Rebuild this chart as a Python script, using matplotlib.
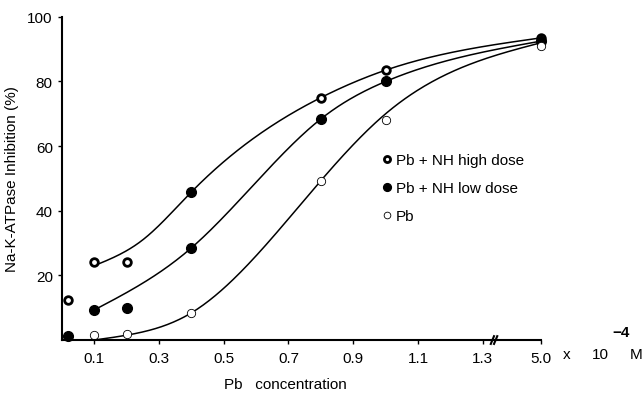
import numpy as np
import matplotlib
matplotlib.use("Agg")
import matplotlib.pyplot as plt

plt.rcParams['font.family'] = ['Liberation Sans', 'DejaVu Sans']

# tick positions (5.0 sits after the axis break at position 1.48)
tick_pos = [0.1, 0.3, 0.5, 0.7, 0.9, 1.1, 1.3, 1.48]
tick_labels = ['0.1', '0.3', '0.5', '0.7', '0.9', '1.1', '1.3', '5.0']

# data points (x in plotted position units)
high_x = [0.02, 0.1, 0.2, 0.8, 1.0, 1.48]
high_y = [12.5, 24, 24, 75, 83.5, 93.5]
low_x = [0.02, 0.1, 0.2, 0.4, 0.4, 0.8, 1.0, 1.48]
low_y = [1.3, 9.3, 10, 28.5, 45.8, 68.4, 80, 92.5]
pb_x = [0.1, 0.2, 0.4, 0.8, 1.0, 1.48]
pb_y = [1.5, 2, 8.4, 49.3, 68, 91]

# fitted curve nodes
high_cx = [0.1, 0.25, 0.4, 0.8, 1.0, 1.48]
high_cy = [23, 31, 45.8, 75, 83.5, 93.5]
low_cx = [0.1, 0.4, 0.8, 1.0, 1.48]
low_cy = [9.3, 28.5, 68.4, 80, 92.5]
pb_cx = [0.1, 0.2, 0.4, 0.8, 1.0, 1.48]
pb_cy = [0, 1.5, 8.4, 49.3, 70, 92]


def spline(xs, ys, n=300):
    xs, ys = np.asarray(xs, float), np.asarray(ys, float)
    k = len(xs)
    h = np.diff(xs)
    A = np.zeros((k, k))
    b = np.zeros(k)
    A[0, 0] = A[-1, -1] = 1
    for i in range(1, k - 1):
        A[i, i - 1] = h[i - 1]
        A[i, i] = 2 * (h[i - 1] + h[i])
        A[i, i + 1] = h[i]
        b[i] = 6 * ((ys[i + 1] - ys[i]) / h[i] - (ys[i] - ys[i - 1]) / h[i - 1])
    M = np.linalg.solve(A, b)
    t = np.linspace(xs[0], xs[-1], n)
    out = np.empty_like(t)
    for j, x in enumerate(t):
        i = min(np.searchsorted(xs, x) - 1, k - 2)
        i = max(i, 0)
        a, c = xs[i + 1] - x, x - xs[i]
        out[j] = (M[i] * a**3 + M[i + 1] * c**3) / (6 * h[i]) \
            + (ys[i] / h[i] - M[i] * h[i] / 6) * a + (ys[i + 1] / h[i] - M[i + 1] * h[i] / 6) * c
    return t, out


fig = plt.figure(figsize=(6.44, 4.06), dpi=100)
ax = fig.add_axes([0.096, 0.16, 0.744, 0.796])

for cx, cy in [(high_cx, high_cy), (low_cx, low_cy), (pb_cx, pb_cy)]:
    t, s = spline(cx, cy)
    ax.plot(t, s, color='black', lw=1.1, clip_on=False)

ax.plot(high_x, high_y, 'o', ms=5.5, mfc='white', mec='black', mew=2.0, clip_on=False,
        label='Pb + NH high dose')
ax.plot(low_x, low_y, 'o', ms=7, mfc='black', mec='black', clip_on=False,
        label='Pb + NH low dose')
ax.plot(pb_x, pb_y, 'o', ms=6, mfc='white', mec='black', mew=0.6, clip_on=False,
        label='Pb')

ax.set_xlim(0, 1.48)
ax.set_ylim(0, 100)
ax.set_yticks([20, 40, 60, 80, 100])
ax.set_xticks(tick_pos)
ax.set_xticklabels(tick_labels)
ax.tick_params(labelsize=11, length=3, width=1)
ax.tick_params(axis='x', pad=5)
ax.spines['top'].set_visible(False)
ax.spines['right'].set_visible(False)
ax.spines['left'].set_linewidth(1.5)
ax.spines['bottom'].set_linewidth(1.5)
ax.set_ylabel('Na-K-ATPase Inhibition (%)', fontsize=11, labelpad=6)

# axis break mark
ax.plot([1.325, 1.335], [-1.2, 1.2], color='black', lw=1.5, clip_on=False)
ax.plot([1.335, 1.345], [-1.2, 1.2], color='black', lw=1.5, clip_on=False)

fig.text(567 / 644, 1 - 355 / 406, 'x', fontsize=11, va='center', ha='center')
fig.text(600 / 644, 1 - 355 / 406, '10', fontsize=11, va='center', ha='center')
fig.text(621 / 644, 1 - 333 / 406, '\u22124', fontsize=11, va='center', ha='center',
         fontweight='bold')
fig.text(636 / 644, 1 - 355 / 406, 'M', fontsize=11, va='center', ha='center')
fig.text(285 / 644, 1 - 385 / 406, 'Pb   concentration', fontsize=11, va='center', ha='center')

ax.legend(loc='upper left', bbox_to_anchor=(0.64, 0.62), frameon=False, fontsize=11,
          handlelength=0.6, handletextpad=0.3, labelspacing=0.9, markerscale=0.8)

fig.savefig('out.png', dpi=100)
